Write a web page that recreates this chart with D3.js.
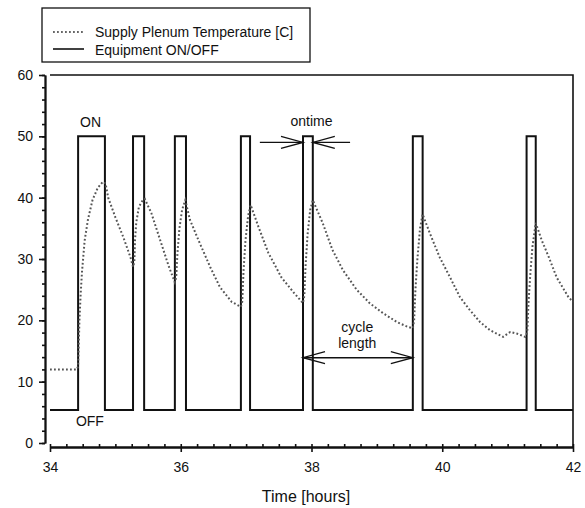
<!DOCTYPE html>
<html>
<head>
<meta charset="utf-8">
<script src="https://cdn.jsdelivr.net/npm/d3@7"></script>
<style>
  body { margin: 0; background: #fff; }
  svg text { font-family: "Liberation Sans", Arial, Helvetica, sans-serif; fill: #111; }
  .axis path, .axis line { stroke: #111; }
</style>
</head>
<body>
<svg id="chart" width="585" height="508"></svg>
<script>
// equipment pulses (hours)
var onStart = [34.43, 35.27, 35.91, 36.92, 37.87, 39.55, 41.29];
var onEnd   = [34.84, 35.44, 36.08, 37.06, 38.02, 39.70, 41.43];
var onLevel = 50,
    offLevel = 5.4;

// supply plenum temperature
var tempTime = [34.00, 34.41, 34.43, 34.44, 34.45, 34.47, 34.49, 34.53, 34.58, 34.65, 34.73, 34.81, 34.85,
    34.89, 35.00, 35.12, 35.23, 35.27,
    35.29, 35.30, 35.32, 35.36, 35.42, 35.45,
    35.55, 35.70, 35.82, 35.91,
    35.93, 35.95, 35.98, 36.02, 36.07,
    36.14, 36.29, 36.45, 36.60, 36.78, 36.92,
    36.94, 36.96, 36.99, 37.03, 37.07,
    37.19, 37.34, 37.54, 37.73, 37.87,
    37.89, 37.91, 37.94, 37.98, 38.02,
    38.17, 38.32, 38.48, 38.69, 38.89, 39.09, 39.31, 39.48, 39.55,
    39.57, 39.59, 39.62, 39.66, 39.70,
    39.81, 39.96, 40.12, 40.27, 40.42, 40.58, 40.73, 40.93, 41.04, 41.15, 41.27,
    41.30, 41.32, 41.35, 41.38, 41.43,
    41.52, 41.63, 41.75, 41.93, 42.00];
var tempValue = [12, 12, 12.5, 16, 20, 24.5, 28, 33, 36.4, 39.6, 41.6, 42.6, 42.3,
    40, 36.8, 33.6, 30.3, 28.7,
    29.5, 33, 36, 38.5, 39.6, 39.8,
    37.5, 32.6, 28.7, 26.2,
    27, 31, 35, 38, 39.6,
    36.4, 32.6, 28.7, 25.4, 23, 22.2,
    23, 28, 33, 37, 38.8,
    35.2, 31, 27, 24.5, 22.8,
    24, 29, 34, 38, 39.6,
    35.9, 31.5, 28.2, 25, 22.8, 21.2, 19.7, 18.9, 18.7,
    20, 25, 30, 35, 37.3,
    34.2, 30.3, 27, 23.8, 21.7, 19.7, 18.4, 17.3, 18.1, 17.8, 17.3,
    18, 23, 28, 32, 35.9,
    33.1, 30.3, 27, 23.8, 23];

var xTicks = [34, 36, 38, 40, 42];
var yTicks = [0, 10, 20, 30, 40, 50, 60];
var legendLabels = ["Supply Plenum Temperature [C]", "Equipment ON/OFF"];

var svg = d3.select("#chart");

var x = d3.scaleLinear().domain([34, 42]).range([50, 573]);
var y = d3.scaleLinear().domain([0, 60]).range([443, 75]);

// step series for equipment
var equip = [[34, offLevel]];
onStart.forEach(function (s, i) {
    equip.push([s, offLevel], [s, onLevel], [onEnd[i], onLevel], [onEnd[i], offLevel]);
});
equip.push([42, offLevel]);

var temp = tempTime.map(function (t, i) { return [t, tempValue[i]]; });

var line = d3.line()
    .x(function (d) { return x(d[0]); })
    .y(function (d) { return y(d[1]); });

// frame top + right
svg.append("path")
    .attr("d", "M" + x(34) + "," + y(60) + "H" + x(42) + "V" + (y(0) + 4))
    .attr("fill", "none")
    .attr("stroke", "#111")
    .attr("stroke-width", 1.6);

// y axis (offset left)
var yAxisG = svg.append("g")
    .attr("class", "axis")
    .attr("transform", "translate(45,0)");
yAxisG.call(d3.axisLeft(y).tickValues(d3.range(0, 61, 2)).tickSize(3).tickSizeOuter(0).tickFormat(""));
yAxisG.append("g").call(d3.axisLeft(y).tickValues(yTicks).tickSize(6).tickPadding(6).tickSizeOuter(0));
yAxisG.selectAll("path").attr("stroke-width", 1.8);
yAxisG.selectAll("line").attr("stroke-width", 1.6);
yAxisG.selectAll("text").style("font-size", "14px").style("font-family", "'Liberation Sans', Arial, sans-serif").attr("fill", "#111");

// x axis (offset down)
var xAxisG = svg.append("g")
    .attr("class", "axis")
    .attr("transform", "translate(0," + (y(0) + 4) + ")");
xAxisG.call(d3.axisBottom(x).tickValues(d3.range(34, 42.01, 0.25)).tickSize(-3).tickSizeOuter(0).tickFormat(""));
xAxisG.append("g").call(d3.axisBottom(x).tickValues(xTicks).tickSize(5).tickPadding(10).tickSizeOuter(0));
xAxisG.selectAll("path").attr("stroke-width", 1.8);
xAxisG.selectAll("line").attr("stroke-width", 1.6);
xAxisG.selectAll("text").style("font-size", "14px").style("font-family", "'Liberation Sans', Arial, sans-serif").attr("fill", "#111");

svg.append("text")
    .attr("x", 306)
    .attr("y", 502)
    .attr("text-anchor", "middle")
    .style("font-size", "16px")
    .text("Time [hours]");

// series
svg.append("path")
    .datum(equip)
    .attr("d", line)
    .attr("fill", "none")
    .attr("stroke", "#111")
    .attr("stroke-width", 2);

svg.append("path")
    .datum(temp)
    .attr("d", line)
    .attr("fill", "none")
    .attr("stroke", "#555")
    .attr("stroke-width", 2)
    .attr("stroke-dasharray", "1.8,2.2");

// annotations
function label(t, v, s) {
    svg.append("text")
        .attr("x", x(t))
        .attr("y", y(v))
        .attr("text-anchor", "middle")
        .style("font-size", "14px")
        .text(s);
}
label(34.62, 51.5, "ON");
label(34.61, 2.8, "OFF");
label(38.0, 51.7, "ontime");
label(38.70, 18.1, "cycle");
label(38.70, 15.5, "length");

function arrowHead(px, py, dir) {
    // open V head, dir = +1 points right, -1 points left
    svg.append("path")
        .attr("d", "M" + (px - dir * 22) + "," + (py - 6) + "L" + px + "," + py + "L" + (px - dir * 22) + "," + (py + 6))
        .attr("fill", "none")
        .attr("stroke", "#111")
        .attr("stroke-width", 1.3);
}
function hline(t1, t2, v) {
    svg.append("line")
        .attr("x1", x(t1)).attr("x2", x(t2))
        .attr("y1", y(v)).attr("y2", y(v))
        .attr("stroke", "#111")
        .attr("stroke-width", 1.3);
}

// ontime arrows
hline(37.21, onStart[4], 49);
arrowHead(x(onStart[4]), y(49), 1);
hline(onEnd[4], 38.59, 49);
arrowHead(x(onEnd[4]), y(49), -1);

// cycle length double arrow
hline(onStart[4], onStart[5], 13.9);
arrowHead(x(onStart[5]), y(13.9), 1);
arrowHead(x(onStart[4]), y(13.9), -1);

// legend
var legend = svg.append("g");
legend.append("rect")
    .attr("x", 42).attr("y", 8)
    .attr("width", 268).attr("height", 54)
    .attr("fill", "#fff")
    .attr("stroke", "#111")
    .attr("stroke-width", 1.3);
legend.append("line")
    .attr("x1", 53).attr("x2", 84).attr("y1", 32).attr("y2", 32)
    .attr("stroke", "#666").attr("stroke-width", 1.8).attr("stroke-dasharray", "1.8,2.2");
legend.append("line")
    .attr("x1", 53).attr("x2", 84).attr("y1", 49).attr("y2", 49)
    .attr("stroke", "#111").attr("stroke-width", 1.6);
legend.selectAll("text.leg")
    .data(legendLabels)
    .enter().append("text")
    .attr("class", "leg")
    .attr("x", 95)
    .attr("y", function (d, i) { return 37 + i * 18; })
    .style("font-size", "14px")
    .text(function (d) { return d; });
</script>
</body>
</html>
